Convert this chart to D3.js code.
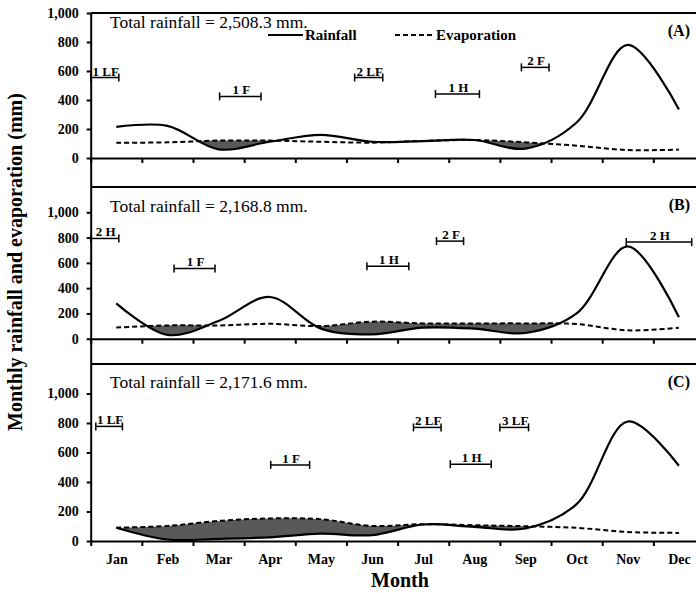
<!DOCTYPE html>
<html>
<head>
<meta charset="utf-8">
<style>
  body { margin: 0; background: #fff; }
  text { font-family: "Liberation Serif", "Times New Roman", serif; fill: #000; }
  .axis path, .axis line { stroke: #000; stroke-width: 2; }
  .axis text { font-family: "Liberation Serif", serif; font-weight: bold; font-size: 14px; }
</style>
</head>
<body>
<script src="https://cdn.jsdelivr.net/npm/d3@7/dist/d3.min.js"></script>
<script>
// month names (x categories)
var months = ["Jan", "Feb", "Mar", "Apr", "May", "Jun", "Jul", "Aug", "Sep", "Oct", "Nov", "Dec"];

// panel A
var rainA = [215, 222, 60, 112, 160, 112, 117, 124, 65, 245, 780, 335];
var evapA = [105, 108, 120, 120, 112, 106, 118, 124, 108, 85, 55, 58];
// panel B
var rainB = [280, 30, 140, 330, 80, 35, 88, 80, 45, 200, 730, 170];
var evapB = [88, 105, 105, 118, 100, 135, 121, 121, 121, 116, 66, 87];
// panel C
var rainC = [90, 10, 15, 25, 50, 40, 112, 96, 85, 250, 810, 510];
var evapC = [90, 102, 136, 153, 148, 102, 114, 107, 100, 89, 61, 55];

// yield stage brackets: month span (0 = Jan) and height in mm
var stagesA = [
  {label: "1 LF", from: -0.5, to: 0.05, at: 555},
  {label: "1 F", from: 2.02, to: 2.83, at: 425},
  {label: "2 LF", from: 4.66, to: 5.21, at: 555},
  {label: "1 H", from: 6.24, to: 7.1, at: 441},
  {label: "2 F", from: 7.92, to: 8.46, at: 625}
];
var stagesB = [
  {label: "2 H", from: -0.5, to: 0.05, at: 793},
  {label: "1 F", from: 1.13, to: 1.93, at: 556},
  {label: "1 H", from: 4.9, to: 5.72, at: 574},
  {label: "2 F", from: 6.26, to: 6.79, at: 772},
  {label: "2 H", from: 9.97, to: 11.25, at: 764}
];
var stagesC = [
  {label: "1 LF", from: -0.4, to: 0.12, at: 777},
  {label: "1 F", from: 3.02, to: 3.78, at: 516},
  {label: "2 LF", from: 5.81, to: 6.35, at: 770},
  {label: "1 H", from: 6.53, to: 7.33, at: 521},
  {label: "3 LF", from: 7.5, to: 8.06, at: 770}
];

var totals = ["Total rainfall = 2,508.3 mm.", "Total rainfall = 2,168.8 mm.", "Total rainfall = 2,171.6 mm."];
var panelNames = ["(A)", "(B)", "(C)"];
var yTicks = [0, 200, 400, 600, 800, 1000];

var width = 696, height = 593;
var svg = d3.select("body").append("svg")
  .attr("width", width)
  .attr("height", height);

// months as a continuous scale so brackets can sit between months
var x = d3.scaleLinear().domain([-0.5, 11.5]).range([90.7, 704.5]);

var panels = [
  {rain: rainA, evap: evapA, stages: stagesA, top: 13, bottom: 187, domain: [-200, 1000], totalAt: 900},
  {rain: rainB, evap: evapB, stages: stagesB, top: 187, bottom: 364, domain: [-200, 1200], totalAt: 1000},
  {rain: rainC, evap: evapC, stages: stagesC, top: 364, bottom: 541, domain: [0, 1200], totalAt: 1040}
];

var curve = d3.curveCatmullRom;

panels.forEach(function(p, i) {
  var y = d3.scaleLinear().domain(p.domain).range([p.bottom, p.top]);
  var g = svg.append("g");
  var idx = d3.range(months.length);

  // shaded deficit: below evaporation and above rainfall
  var clipId = "clip" + i;
  g.append("clipPath").attr("id", clipId)
    .append("path")
    .attr("d", d3.area()
      .x(function(d) { return x(d); })
      .y0(p.top - 5)
      .y1(function(d) { return y(p.rain[d]); })
      .curve(curve)(idx));
  g.append("path")
    .attr("clip-path", "url(#" + clipId + ")")
    .attr("fill", "#595959")
    .attr("d", d3.area()
      .x(function(d) { return x(d); })
      .y0(function(d) { return y(p.evap[d]); })
      .y1(p.bottom + 20)
      .curve(curve)(idx));

  var line = function(vals) {
    return d3.line()
      .x(function(d) { return x(d); })
      .y(function(d) { return y(vals[d]); })
      .curve(curve)(idx);
  };
  g.append("path").attr("d", line(p.evap))
    .attr("fill", "none").attr("stroke", "#000")
    .attr("stroke-width", 2).attr("stroke-dasharray", "5,3");
  g.append("path").attr("d", line(p.rain))
    .attr("fill", "none").attr("stroke", "#000")
    .attr("stroke-width", 2.2);

  // top frame line
  g.append("line")
    .attr("x1", x(-0.5)).attr("x2", width)
    .attr("y1", p.top).attr("y2", p.top)
    .attr("stroke", "#000").attr("stroke-width", 2);

  // x axis at zero
  g.append("g").attr("class", "axis")
    .attr("transform", "translate(0," + y(0) + ")")
    .call(d3.axisBottom(x)
      .tickValues(d3.range(-0.5, 11, 1))
      .tickFormat("")
      .tickSize(5)
      .tickSizeOuter(0));

  // y axis
  g.append("g").attr("class", "axis")
    .attr("transform", "translate(" + x(-0.5) + ",0)")
    .call(d3.axisLeft(y)
      .tickValues(yTicks)
      .tickFormat(d3.format(","))
      .tickSize(4)
      .tickPadding(8)
      .tickSizeOuter(0));

  // stage brackets
  var st = g.selectAll(".stage").data(p.stages).enter().append("g").attr("class", "stage");
  st.append("line")
    .attr("x1", function(d) { return x(d.from); })
    .attr("x2", function(d) { return x(d.to); })
    .attr("y1", function(d) { return y(d.at); })
    .attr("y2", function(d) { return y(d.at); })
    .attr("stroke", "#000").attr("stroke-width", 1.5);
  ["from", "to"].forEach(function(k) {
    st.append("line")
      .attr("x1", function(d) { return x(d[k]); })
      .attr("x2", function(d) { return x(d[k]); })
      .attr("y1", function(d) { return y(d.at) - 4; })
      .attr("y2", function(d) { return y(d.at) + 4; })
      .attr("stroke", "#000").attr("stroke-width", 1.5);
  });
  st.append("text")
    .attr("x", function(d) { return (x(d.from) + x(d.to)) / 2 + 1; })
    .attr("y", function(d) { return y(d.at) - 2; })
    .attr("text-anchor", "middle")
    .style("font-weight", "bold").style("font-size", "13px")
    .text(function(d) { return d.label; });

  // total rainfall and panel letter
  g.append("text")
    .attr("x", 110).attr("y", y(p.totalAt))
    .style("font-size", "17.5px")
    .text(totals[i]);
  g.append("text")
    .attr("x", 690).attr("y", p.top + 23)
    .attr("text-anchor", "end")
    .style("font-size", "16px").style("font-weight", "bold")
    .text(panelNames[i]);

  if (i == 2) {
    g.append("g").attr("class", "axis")
      .attr("transform", "translate(0," + y(0) + ")")
      .call(d3.axisBottom(x)
        .tickValues(idx)
        .tickFormat(function(d) { return months[d]; })
        .tickSize(0)
        .tickPadding(13))
      .select(".domain").remove();
  }
});

// legend (panel A)
var legend = svg.append("g");
legend.append("line").attr("x1", 268).attr("x2", 303).attr("y1", 35).attr("y2", 35)
  .attr("stroke", "#000").attr("stroke-width", 2.2);
legend.append("text").attr("x", 305).attr("y", 40)
  .style("font-weight", "bold").style("font-size", "15px").text("Rainfall");
legend.append("line").attr("x1", 395).attr("x2", 433).attr("y1", 35).attr("y2", 35)
  .attr("stroke", "#000").attr("stroke-width", 2).attr("stroke-dasharray", "5,3");
legend.append("text").attr("x", 436).attr("y", 40)
  .style("font-weight", "bold").style("font-size", "15px").text("Evaporation");

// axis titles
svg.append("text")
  .attr("x", 400).attr("y", 587)
  .attr("text-anchor", "middle")
  .style("font-weight", "bold").style("font-size", "20px")
  .text("Month");
svg.append("text")
  .attr("transform", "translate(22,262) rotate(-90)")
  .attr("text-anchor", "middle")
  .style("font-weight", "bold").style("font-size", "20px")
  .text("Monthly rainfall and evaporation (mm)");
</script>
</body>
</html>
